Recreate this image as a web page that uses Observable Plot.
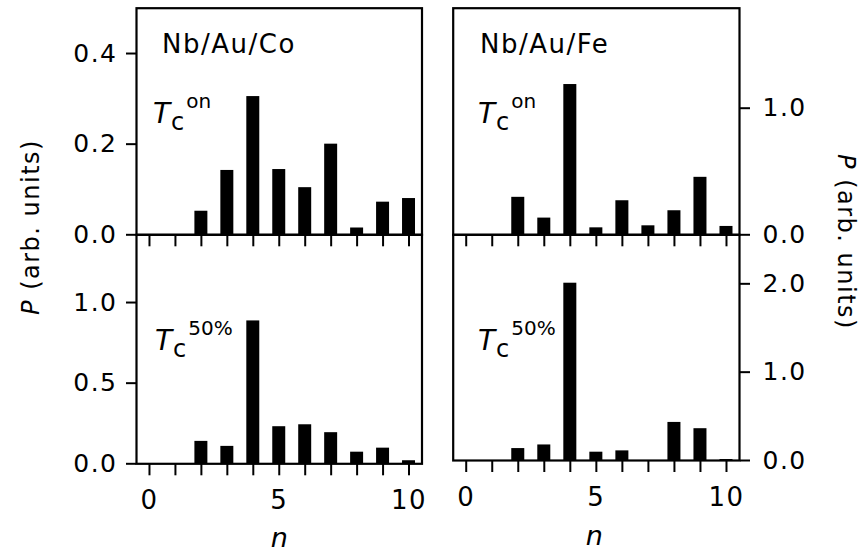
<!DOCTYPE html>
<html>
<head>
<meta charset="utf-8">
<script src="https://cdn.jsdelivr.net/npm/d3@7"></script>
<script src="https://cdn.jsdelivr.net/npm/@observablehq/plot@0.6"></script>
<style>
  html, body { margin: 0; padding: 0; background: white; }
  #chart { position: relative; width: 866px; height: 557px; overflow: hidden; font-family: "DejaVu Sans", sans-serif; }
  #chart svg { position: absolute; left: 0; top: 0; }
</style>
</head>
<body>
<div id="chart"></div>
<script>
// ---- data ----
const nValues = [0, 1, 2, 3, 4, 5, 6, 7, 8, 9, 10];
const coOn  = [0, 0, 0.052, 0.142, 0.305, 0.144, 0.104, 0.200, 0.015, 0.072, 0.080];
const co50  = [0, 0, 0.139, 0.108, 0.886, 0.230, 0.242, 0.193, 0.072, 0.097, 0.019];
const feOn  = [0, 0, 0.296, 0.132, 1.187, 0.055, 0.269, 0.071, 0.190, 0.454, 0.066];
const fe50  = [0, 0, 0.135, 0.176, 2.007, 0.094, 0.109, 0, 0.431, 0.360, 0.011];
const xTickLabels = [0, 5, 10];
const yTicksCoOn = [0, 0.2, 0.4];
const yTicksCo50 = [0, 0.5, 1.0];
const yTicksFeOn = [0, 1.0];
const yTicksFe50 = [0, 1.0, 2.0];
const titles = ["Nb/Au/Co", "Nb/Au/Fe"];

const W = 866, H = 557;
const chart = document.getElementById("chart");

const panels = [
  {values: coOn, box: [136, 421.5, 7.7, 234.3], ydom: [0, 0.5],   yticks: yTicksCoOn, side: "left",  xlabels: false},
  {values: co50, box: [136, 421.5, 234.3, 463.3], ydom: [0, 1.42], yticks: yTicksCo50, side: "left",  xlabels: true},
  {values: feOn, box: [452.7, 739, 7.7, 234.3], ydom: [0, 1.79],  yticks: yTicksFeOn, side: "right", xlabels: false},
  {values: fe50, box: [452.7, 739, 234.3, 460], ydom: [0, 2.555], yticks: yTicksFe50, side: "right", xlabels: true}
];

for (const p of panels) {
  const [l, r, t, b] = p.box;
  const data = nValues.map((n, i) => ({n, p: p.values[i]}));
  const marks = [
    Plot.rectY(data, {x1: d => d.n - 0.25, x2: d => d.n + 0.25, y: "p", fill: "black"}),
    Plot.frame({stroke: "black", strokeWidth: 2.2}),
    Plot.axisY({anchor: p.side, ticks: p.yticks, tickFormat: ".1f", tickSize: 10,
                tickPadding: p.side === "left" ? 9 : 13, strokeWidth: 2, label: null, fontSize: 25}),
    Plot.axisX({anchor: "bottom", ticks: nValues, tickSize: 12, tickFormat: () => "", strokeWidth: 2, label: null})
  ];
  if (p.xlabels) {
    marks.push(Plot.axisX({anchor: "bottom", ticks: xTickLabels, tickSize: 0, tickPadding: 27,
                           tickFormat: d => String(d), label: null, fontSize: 26}));
  }
  const svg = Plot.plot({
    width: W, height: H,
    marginLeft: l, marginRight: W - r, marginTop: t, marginBottom: H - b,
    x: {domain: [-0.5, 10.5]},
    y: {domain: p.ydom},
    style: "background: transparent; font-family: 'DejaVu Sans', sans-serif; font-size: 24px; letter-spacing: 1.5px; color: black; overflow: visible;",
    marks
  });
  chart.appendChild(svg);
}

// ---- text overlay ----
const ov = d3.create("svg").attr("width", W).attr("height", H)
  .style("font-family", "'DejaVu Sans', sans-serif").style("letter-spacing", "1.5px")
  .attr("fill", "black");

ov.append("text").attr("x", 162).attr("y", 53).attr("font-size", 26).text(titles[0]);
ov.append("text").attr("x", 480).attr("y", 53).attr("font-size", 26).text(titles[1]);

function tc(x, y, sup) {
  const t = ov.append("text").attr("x", x).attr("y", y).attr("font-size", 28).style("letter-spacing", "0px");
  t.append("tspan").attr("font-style", "italic").text("T");
  t.append("tspan").attr("font-size", 24).attr("dy", 7).attr("dx", 1).text("c");
  t.append("tspan").attr("font-size", 20).attr("dy", -22).attr("dx", 2).text(sup);
}
tc(153, 123, "on");
tc(478, 123, "on");
tc(155, 350, "50%");
tc(478, 350, "50%");

ov.append("text").attr("transform", "translate(31,227) rotate(-90)")
  .attr("text-anchor", "middle").attr("dominant-baseline", "central").attr("font-size", 24)
  .call(t => { t.append("tspan").attr("font-style", "italic").text("P"); t.append("tspan").text(" (arb. units)"); });
ov.append("text").attr("transform", "translate(846,242) rotate(90)")
  .attr("text-anchor", "middle").attr("dominant-baseline", "central").attr("font-size", 24)
  .call(t => { t.append("tspan").attr("font-style", "italic").text("P"); t.append("tspan").text(" (arb. units)"); });

ov.append("text").attr("x", 280).attr("y", 547).attr("text-anchor", "middle").attr("font-size", 27)
  .attr("font-style", "italic").text("n");
ov.append("text").attr("x", 595).attr("y", 545).attr("text-anchor", "middle").attr("font-size", 27)
  .attr("font-style", "italic").text("n");

chart.appendChild(ov.node());
</script>
</body>
</html>
